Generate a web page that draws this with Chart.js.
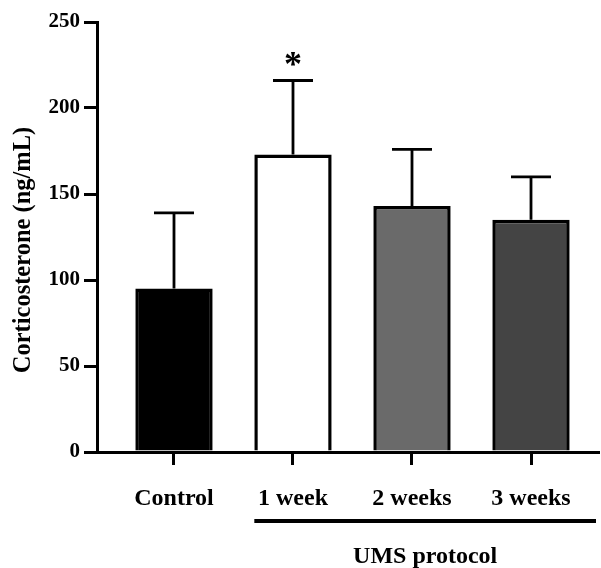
<!DOCTYPE html>
<html>
<head>
<meta charset="utf-8">
<script src="https://cdn.jsdelivr.net/npm/chart.js@4.4.0/dist/chart.umd.min.js"></script>
<style>
  body { margin: 0; background: #fff; }
</style>
</head>
<body>
<canvas id="barChart" width="601" height="568"></canvas>
<script>
const categories = ['Control', '1 week', '2 weeks', '3 weeks']
const means = [95, 173, 143, 135]
const sd = [44, 43, 33, 25]
const barColors = ['#000000', '#ffffff', '#6a6a6a', '#444444']
const marks = ['', '*', '', '']
const yTicks = [0, 50, 100, 150, 200, 250]
const yTitle = 'Corticosterone (ng/mL)'
const groupLabel = 'UMS protocol'
const groupStart = 1

Chart.defaults.font.family = "'Liberation Serif', 'Times New Roman', serif"
Chart.defaults.font.weight = 'bold'
Chart.defaults.color = '#000'

// error bars, asterisk, y title and the group bracket under the axis
const extras = {
    id: 'extras',
    afterDatasetsDraw(chart) {
        const ctx = chart.ctx
        const x = chart.scales.x
        const y = chart.scales.y
        const area = chart.chartArea
        const bars = chart.getDatasetMeta(0).data
        ctx.save()
        ctx.strokeStyle = '#000'
        ctx.fillStyle = '#000'
        means.forEach((m, i) => {
            const cx = x.getPixelForValue(i)
            const yb = y.getPixelForValue(m)
            const yt = y.getPixelForValue(m + sd[i])
            ctx.lineWidth = 2.8
            ctx.beginPath()
            ctx.moveTo(cx, yb)
            ctx.lineTo(cx, yt)
            ctx.moveTo(cx - 20, yt)
            ctx.lineTo(cx + 20, yt)
            ctx.stroke()
            if (marks[i]) {
                ctx.font = "bold 36px 'Liberation Serif'"
                ctx.textAlign = 'center'
                ctx.textBaseline = 'alphabetic'
                ctx.fillText(marks[i], cx, yt - 4)
            }
        })

        const half = bars[groupStart].width / 2
        const x0 = x.getPixelForValue(groupStart) - half
        const x1 = area.right - 2
        const ly = area.bottom + 69
        ctx.lineWidth = 4
        ctx.beginPath()
        ctx.moveTo(x0, ly)
        ctx.lineTo(x1, ly)
        ctx.stroke()
        ctx.font = "bold 24px 'Liberation Serif'"
        ctx.textAlign = 'center'
        ctx.textBaseline = 'middle'
        ctx.fillText(groupLabel, (x0 + x1) / 2, ly + 36)

        ctx.translate(24, (area.top + area.bottom) / 2 + 13)
        ctx.rotate(-Math.PI / 2)
        ctx.font = "bold 24.5px 'Liberation Serif'"
        ctx.fillText(yTitle, 0, 0)
        ctx.restore()
    }
}

new Chart('barChart', {
    type: 'bar',
    data: {
        datasets: [
            {
                data: means.map((v, i) => ({ x: i, y: v })),
                backgroundColor: barColors,
                borderColor: '#000',
                borderWidth: 3.5,
                borderSkipped: 'bottom',
                categoryPercentage: 1,
                barPercentage: 0.65
            }
        ]
    },
    options: {
        responsive: false,
        animation: false,
        layout: {
            padding: { top: 22, right: 3, left: 0, bottom: 0 }
        },
        plugins: {
            legend: { display: false },
            tooltip: { enabled: false }
        },
        scales: {
            x: {
                type: 'linear',
                offset: false,
                min: -0.647,
                max: 3.563,
                afterBuildTicks: (axis) => {
                    axis.ticks = categories.map((c, i) => ({ value: i }))
                },
                afterFit: (axis) => { axis.height = 116 },
                ticks: {
                    callback: (v) => categories[v],
                    autoSkip: false,
                    maxRotation: 0,
                    padding: 19,
                    font: { size: 24, weight: 'bold' }
                },
                grid: {
                    offset: false,
                    drawOnChartArea: false,
                    tickLength: 13,
                    lineWidth: 3,
                    color: '#000'
                },
                border: { display: true, width: 3, color: '#000' }
            },
            y: {
                min: 0,
                max: 250,
                afterBuildTicks: (axis) => {
                    axis.ticks = yTicks.map(v => ({ value: v }))
                },
                afterFit: (axis) => { axis.width = 97 },
                ticks: {
                    padding: 4,
                    font: { size: 21, weight: 'bold' }
                },
                grid: {
                    drawOnChartArea: false,
                    tickLength: 13,
                    lineWidth: 3,
                    color: '#000'
                },
                border: { display: true, width: 3, color: '#000' }
            }
        }
    },
    plugins: [extras]
})
</script>
</body>
</html>
